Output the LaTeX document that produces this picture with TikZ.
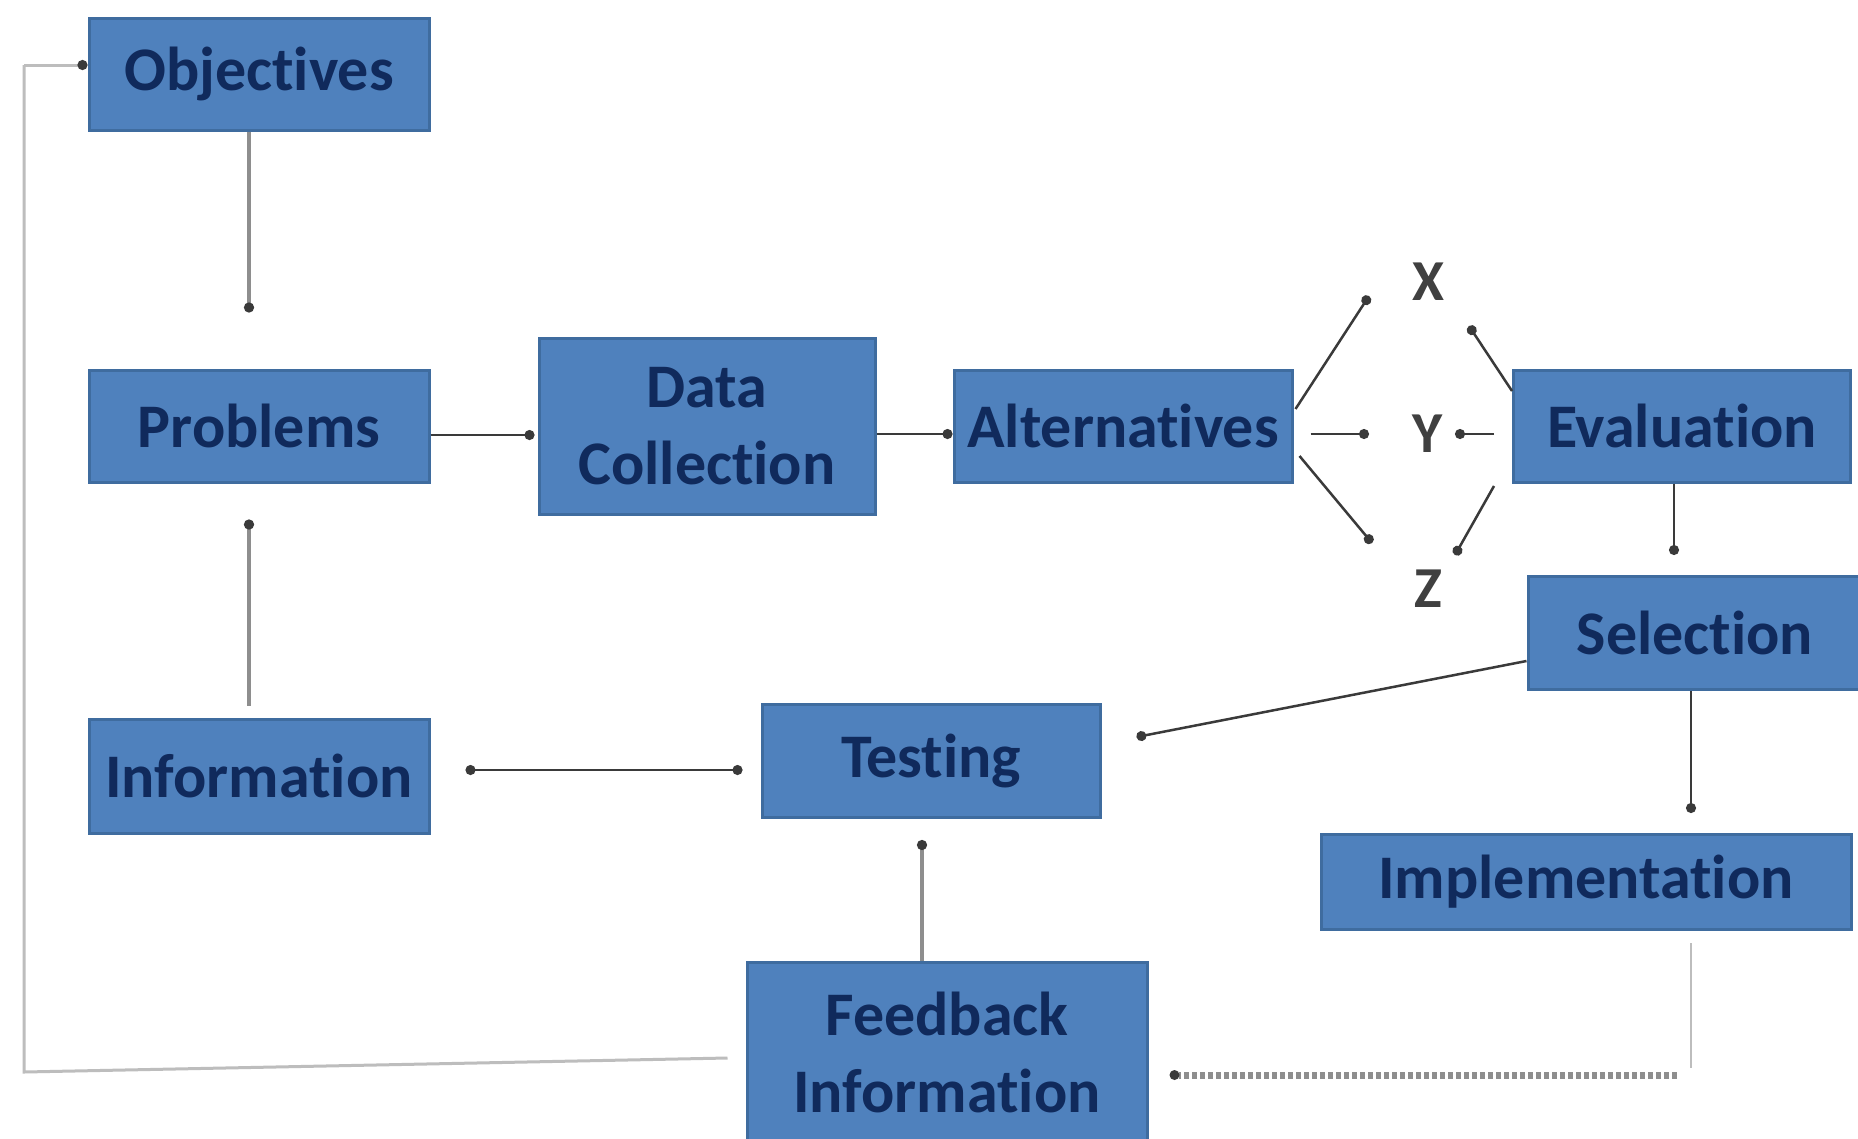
\documentclass[tikz,border=0pt]{standalone}
\usepackage{fontspec}
\setmainfont{Carlito}[Ligatures=NoCommon]
\usetikzlibrary{arrows.meta}
\definecolor{boxfill}{HTML}{4F81BD}
\definecolor{boxline}{HTML}{3F6C9F}
\definecolor{boxtext}{HTML}{102A5C}
\definecolor{linkdark}{HTML}{3A3A3A}
\definecolor{linkgray}{HTML}{8E8E8E}
\definecolor{linklight}{HTML}{BDBDBD}
\definecolor{lettergray}{HTML}{404040}
\begin{document}
\begin{tikzpicture}[x=1pt,y=-1pt,
  box/.style={draw=boxline, line width=3pt, fill=boxfill, text=boxtext,
    font=\fontsize{62}{77}\selectfont\bfseries, align=center, inner sep=0pt},
  letter/.style={text=lettergray, font=\fontsize{58}{70}\selectfont\bfseries, inner sep=0pt},
  dot/.style={-{Circle[length=10pt, color=linkdark]}},
  conn/.style={dot, draw=linkdark, line width=2.5pt},
  heavy/.style={dot, draw=linkgray, line width=4pt},
  faint/.style={draw=linklight, line width=3pt},
  dotline/.style={draw=linkgray, line width=7pt, dash pattern=on 5pt off 3pt}]
\useasboundingbox (0,0) rectangle (1858,1138);
\fill[white] (0,0) rectangle (1858,1138);

% process boxes
\node[box, minimum width=340pt, minimum height=112pt] (obj)  at (259,74)   {Objectives};
\node[box, minimum width=340pt, minimum height=112pt] (prob) at (259,426)  {Problems};
\node[box, minimum width=336pt, minimum height=176pt] (data) at (707,426)  {Data\\Collection};
\node[box, minimum width=338pt, minimum height=112pt] (alt)  at (1123,426) {Alternatives};
\node[box, minimum width=337pt, minimum height=112pt] (eval) at (1682,426) {Evaluation};
\node[box, minimum width=334pt, minimum height=113pt] (sel)  at (1695,633) {Selection};
\node[box, minimum width=340pt, minimum height=114pt] (info) at (259,776)  {Information};
\node[box, minimum width=338pt, minimum height=113pt] (test) at (931,761)  {Testing};
\node[box, minimum width=530pt, minimum height=95pt]  (impl) at (1586,882) {Implementation};
\node[box, minimum width=400pt, minimum height=180pt] (fb)   at (947,1052) {Feedback\\Information};

% the three alternatives
\node[letter] (X) at (1428,282) {X};
\node[letter] (Y) at (1428,434) {Y};
\node[letter] (Z) at (1428,589) {Z};

% main flow
\draw[heavy] ([xshift=-10pt]obj.south) -- ([xshift=-10pt,yshift=56pt]prob.north);
\draw[heavy] ([xshift=-10pt,yshift=12pt]info.north) -- ([xshift=-10pt,yshift=-36pt]prob.south);
\draw[conn] ([yshift=-9pt]prob.east) -- ([xshift=-3pt,yshift=-9pt]data.west);
\draw[conn] ([yshift=-8pt]data.east) -- ([yshift=-8pt]alt.west);

% alternatives to X, Y, Z
\draw[conn] ([xshift=2pt,yshift=17pt]alt.east) -- ([xshift=-59pt,yshift=-14pt]X.center);
\draw[conn] ([xshift=17pt,yshift=-8pt]alt.east) -- ([xshift=-59pt]Y.center);
\draw[conn] ([xshift=6pt,yshift=-30pt]alt.east) -- ([xshift=-56pt,yshift=46pt]Z.center);

% evaluation of X, Y, Z
\draw[conn] ([yshift=35pt]eval.west) -- ([xshift=41pt,yshift=-44pt]X.center);
\draw[conn] ([xshift=-18pt,yshift=-8pt]eval.west) -- ([xshift=27pt]Y.center);
\draw[conn] ([xshift=-18pt,yshift=-60pt]eval.west) -- ([xshift=27pt,yshift=34pt]Z.center);

% selection, testing, implementation
\draw[conn] ([xshift=-8pt]eval.south) -- ([xshift=-21pt,yshift=20pt]sel.north);
\draw[conn] ([yshift=-28pt]sel.west) -- ([xshift=35pt,yshift=24pt]test.east);
\draw[conn] ([xshift=-4pt]sel.south) -- ([xshift=105pt,yshift=20pt]impl.north);
\draw[conn, {Circle[length=10pt]}-{Circle[length=10pt]}] ([xshift=35pt,yshift=6pt]info.east) -- ([xshift=-18pt,yshift=-9pt]test.west);
\draw[heavy] ([xshift=-25pt]fb.north) -- ([xshift=-9pt,yshift=-21pt]test.south);

% feedback loops
\coordinate (loopbl) at (24,1072);
\coordinate (looptl) at (24,65);
\draw[faint] ([xshift=-18pt,yshift=-6pt]fb.west) -- (loopbl) -- (looptl);
\draw[faint, dot] (looptl) -- ([yshift=9pt]obj.west);
\coordinate (implbend) at (1691,1068);
\draw[faint, line width=2pt] ([xshift=105pt,yshift=-12pt]impl.south) -- (implbend);
\draw[dotline] ([xshift=-14pt,yshift=-7pt]implbend) -- ([xshift=30pt,yshift=-23pt]fb.east);
\fill[linkdark] ([xshift=26pt,yshift=-23pt]fb.east) circle (5pt);
\end{tikzpicture}
\end{document}
